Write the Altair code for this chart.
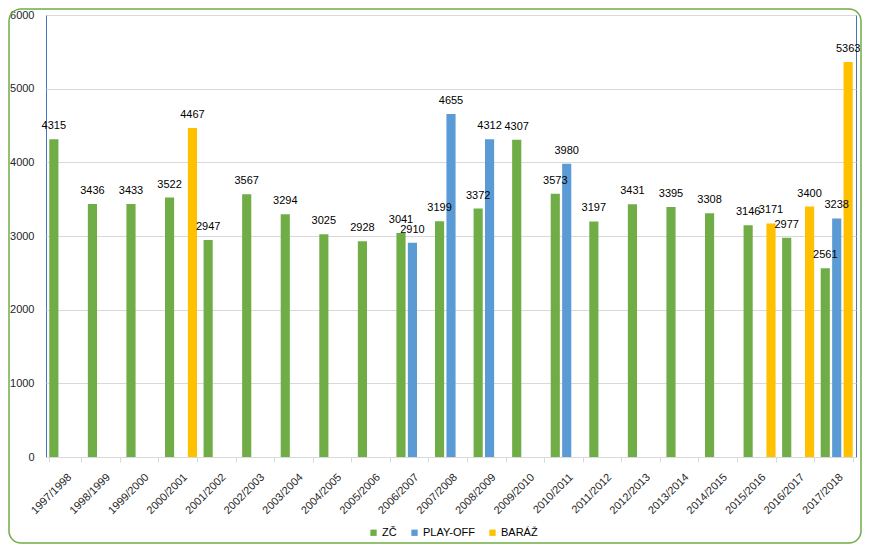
import altair as alt
import pandas as pd

seasons = ["1997/1998", "1998/1999", "1999/2000", "2000/2001", "2001/2002", "2002/2003",
           "2003/2004", "2004/2005", "2005/2006", "2006/2007", "2007/2008", "2008/2009",
           "2009/2010", "2010/2011", "2011/2012", "2012/2013", "2013/2014", "2014/2015",
           "2015/2016", "2016/2017", "2017/2018"]
zc_values = [4315, 3436, 3433, 3522, 2947, 3567, 3294, 3025, 2928, 3041, 3199, 3372,
             4307, 3573, 3197, 3431, 3395, 3308, 3146, 2977, 2561]
playoff_seasons = ["2006/2007", "2007/2008", "2008/2009", "2010/2011", "2017/2018"]
playoff_values = [2910, 4655, 4312, 3980, 3238]
baraz_seasons = ["2000/2001", "2015/2016", "2016/2017", "2017/2018"]
baraz_values = [4467, 3171, 3400, 5363]
series = ["ZČ", "PLAY-OFF", "BARÁŽ"]
colors = ["#70AD47", "#5B9BD5", "#FFC000"]
y_ticks = [0, 1000, 2000, 3000, 4000, 5000, 6000]

rows = []
for s, v in zip(seasons, zc_values):
    rows.append({"season": s, "series": "ZČ", "value": v})
for s, v in zip(playoff_seasons, playoff_values):
    rows.append({"season": s, "series": "PLAY-OFF", "value": v})
for s, v in zip(baraz_seasons, baraz_values):
    rows.append({"season": s, "series": "BARÁŽ", "value": v})
df = pd.DataFrame(rows)

W, H = 810, 442
PL, PT, PR, PB = 38, 7, 6, 87
FONT = "Liberation Sans"

base = alt.Chart(df).encode(
    x=alt.X("season:N", sort=seasons,
            scale=alt.Scale(domain=seasons, paddingInner=0.17, paddingOuter=0.085),
            axis=alt.Axis(title=None, labelAngle=-45, tickBand="extent",
                          domainColor="#D9D9D9", tickColor="#D9D9D9", tickSize=5,
                          labelFontSize=11, labelColor="#262626", labelFont=FONT,
                          labelPadding=9, grid=False)),
    xOffset=alt.XOffset("series:N",
                        scale=alt.Scale(domain=series, paddingInner=0.2, paddingOuter=0)),
    y=alt.Y("value:Q", scale=alt.Scale(domain=[0, 6000], nice=False),
            axis=alt.Axis(title=None, values=y_ticks, ticks=False, domain=False,
                          gridColor="#D9D9D9", labelFontSize=11, labelColor="#262626",
                          labelFont=FONT, labelPadding=12, format="d")),
)

bars = base.mark_bar().encode(
    color=alt.Color("series:N",
                    scale=alt.Scale(domain=series, range=colors),
                    legend=alt.Legend(title=None, orient="none", direction="horizontal",
                                      legendX=322, legendY=512, symbolType="square",
                                      symbolSize=40, symbolStrokeWidth=0,
                                      labelFontSize=11, labelFont=FONT, labelColor="#000000",
                                      labelOffset=3, columnPadding=12, padding=0))
)

labels = base.mark_text(baseline="alphabetic", dy=-10, fontSize=11, font=FONT,
                        color="#000000").encode(text=alt.Text("value:Q", format="d"))

frame = alt.Chart(pd.DataFrame({"k": [0]})).mark_rect(
    filled=False, stroke="#70AD47", strokeWidth=1.5, cornerRadius=12
).encode(
    x=alt.value(-PL + 1), x2=alt.value(W + PR - 1),
    y=alt.value(-PT + 1), y2=alt.value(H + PB - 1)
)

chart = alt.layer(bars, labels, frame).properties(
    width=W, height=H,
    autosize=alt.AutoSizeParams(type="none"),
    padding={"left": PL, "top": PT, "right": PR, "bottom": PB},
    background="white",
).configure_view(stroke="#4472C4", strokeWidth=1)

chart.save("out.html", embed_options={"renderer": "svg", "actions": False})
